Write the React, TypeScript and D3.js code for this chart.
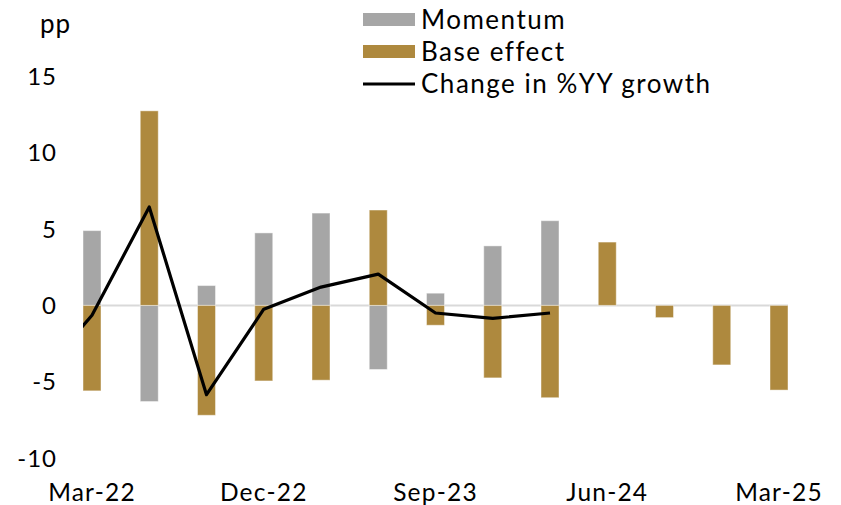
import React from 'react';
import * as d3 from 'd3';

const quarters = ['Mar-22', 'Jun-22', 'Sep-22', 'Dec-22', 'Mar-23', 'Jun-23', 'Sep-23', 'Dec-23', 'Mar-24', 'Jun-24', 'Sep-24', 'Dec-24', 'Mar-25'];
const momentum = [4.9, -6.3, 1.3, 4.75, 6.05, -4.2, 0.8, 3.9, 5.55, null, null, null, null];
const baseEffect = [-5.6, 12.75, -7.2, -4.95, -4.9, 6.25, -1.3, -4.75, -6.05, 4.15, -0.8, -3.9, -5.55];
// line starts one quarter earlier (Dec-21), clipped at the plot edge
const lineDates = ['Dec-21', 'Mar-22', 'Jun-22', 'Sep-22', 'Dec-22', 'Mar-23', 'Jun-23', 'Sep-23', 'Dec-23', 'Mar-24'];
const changeYY = [-5.0, -0.65, 6.45, -5.85, -0.25, 1.2, 2.05, -0.5, -0.85, -0.5];
const xTicks = ['Mar-22', 'Dec-22', 'Sep-23', 'Jun-24', 'Mar-25'];
const yTicks = [15, 10, 5, 0, -5, -10];

const GREY = '#A6A6A6';
const GOLD = '#AE893E';
const FONT = 'Lato, sans-serif';

export default function App() {
  const width = 841;
  const height = 505;
  const x = d3.scalePoint<string>().domain(quarters).range([92, 779]);
  const step = x.step();
  const xAt = (q: string) => (q === 'Dec-21' ? x(quarters[0])! - step : x(q)!);
  const y = d3.scaleLinear().domain([-10, 15]).range([458, 76.5]);
  const barW = 18;
  const left = x(quarters[0])! - barW / 2;
  const right = x(quarters[quarters.length - 1])! + barW / 2;

  const line = d3
    .line<number>()
    .x((_, i) => xAt(lineDates[i]))
    .y((d) => y(d));

  const bar = (v: number | null, q: string, fill: string, key: string) => {
    if (v == null) return null;
    const y0 = y(0);
    const y1 = y(v);
    return (
      <rect
        key={key}
        x={x(q)! - barW / 2}
        y={Math.min(y0, y1)}
        width={barW}
        height={Math.abs(y1 - y0)}
        fill={fill}
        stroke="rgba(255,255,255,0.45)"
        strokeWidth={1}
      />
    );
  };

  const legend = [
    { label: 'Momentum', type: 'rect', color: GREY },
    { label: 'Base effect', type: 'rect', color: GOLD },
    { label: 'Change in %YY growth', type: 'line', color: '#000' },
  ];

  return (
    <svg width={width} height={height} style={{ position: 'absolute', left: 0, top: 0, fontFamily: FONT }}>
      <defs>
        <clipPath id="plot">
          <rect x={left} y={0} width={right - left} height={height} />
        </clipPath>
      </defs>
      <text x={40} y={33} fontSize={26} letterSpacing={1}>pp</text>
      {yTicks.map((t) => (
        <text key={t} x={57} y={y(t) + 8.5} fontSize={24} textAnchor="end" letterSpacing={1}>
          {t}
        </text>
      ))}
      {xTicks.map((t) => (
        <text key={t} x={x(t)!} y={501} fontSize={24.5} textAnchor="middle" letterSpacing={1.2}>
          {t}
        </text>
      ))}
      <line x1={left} x2={right} y1={y(0)} y2={y(0)} stroke="#D9D9D9" strokeWidth={2} />
      {quarters.map((q, i) => bar(momentum[i], q, GREY, 'm' + i))}
      {quarters.map((q, i) => bar(baseEffect[i], q, GOLD, 'b' + i))}
      <path d={line(changeYY)!} fill="none" stroke="#000" strokeWidth={3.2} strokeLinejoin="round" clipPath="url(#plot)" />
      {legend.map((l, i) => {
        const cy = 20 + i * 32;
        return (
          <g key={l.label}>
            {l.type === 'rect' ? (
              <rect x={363} y={cy - 7} width={52} height={13} fill={l.color} />
            ) : (
              <line x1={363} x2={415} y1={cy} y2={cy} stroke={l.color} strokeWidth={3} />
            )}
            <text x={421} y={cy + 9} fontSize={26} letterSpacing={1.5}>
              {l.label}
            </text>
          </g>
        );
      })}
    </svg>
  );
}
